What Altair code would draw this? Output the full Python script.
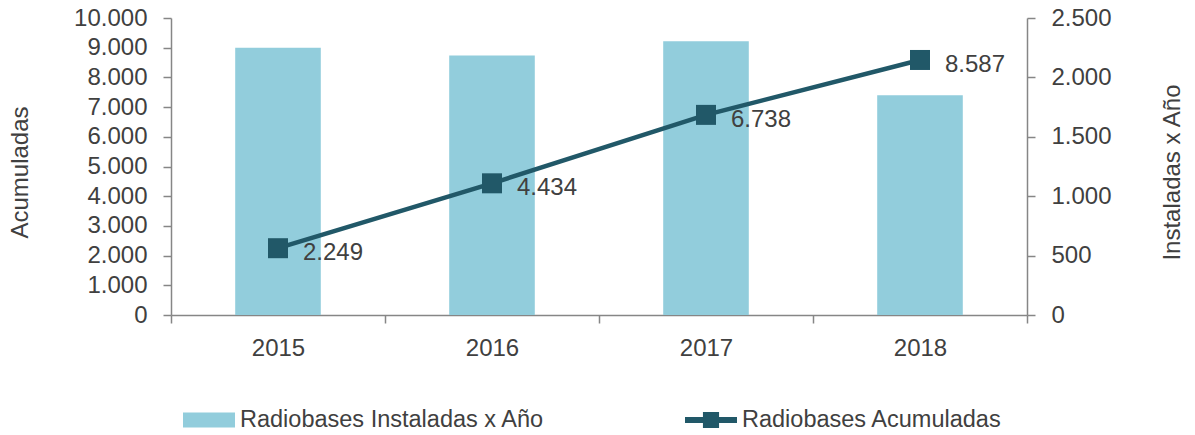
import altair as alt
import pandas as pd

years = ["2015", "2016", "2017", "2018"]
instaladas = [2249, 2185, 2304, 1849]
acumuladas = [2249, 4434, 6738, 8587]
label_instaladas = "Radiobases Instaladas x Año"
label_acumuladas = "Radiobases Acumuladas"

df = pd.DataFrame({"year": years, "inst": instaladas, "acum": acumuladas})
df["acum_lbl"] = [f"{v:,}".replace(",", ".") for v in acumuladas]

FONT = "Liberation Sans"
TXT = "#404040"
AX = "#868686"
BAR = "#92CDDC"
LINE = "#215868"

x_enc = alt.X(
    "year:N",
    scale=alt.Scale(paddingInner=0, paddingOuter=0),
    axis=alt.Axis(title=None, labelAngle=0, tickBand="extent", tickSize=8,
                  labelPadding=13),
)

bars = alt.Chart(df).mark_bar(color=BAR, width=alt.RelativeBandSize(0.4)).encode(
    x=x_enc,
    y=alt.Y("inst:Q", scale=alt.Scale(domain=[0, 2500], nice=False),
            axis=alt.Axis(orient="right", title="Instaladas x Año",
                          values=[0, 500, 1000, 1500, 2000, 2500],
                          labelExpr="replace(format(datum.value, ','), ',', '.')",
                          titleX=145, titleY=154, titleAngle=270,
                          titleAlign="center", titleBaseline="middle",
                          tickSize=8, labelPadding=16)),
    color=alt.Color("k:N", scale=alt.Scale(domain=[label_instaladas], range=[BAR]),
                    legend=alt.Legend(orient="none", legendX=12, legendY=376,
                                      title=None, padding=0,
                                      symbolType="M-1,-0.29H1V0.29H-1Z",
                                      symbolSize=2704, labelOffset=5,
                                      symbolStrokeWidth=0)),
).transform_calculate(k=f"'{label_instaladas}'")

y_left = alt.Y("acum:Q", scale=alt.Scale(domain=[0, 10000], nice=False),
               axis=alt.Axis(orient="left", title="Acumuladas",
                             values=list(range(0, 10001, 1000)),
                             labelExpr="replace(format(datum.value, ','), ',', '.')",
                             titleX=-151, titleY=154, titleAngle=270,
                             titleAlign="center", titleBaseline="middle",
                             tickSize=8, labelPadding=16))

line = alt.Chart(df).mark_line(color=LINE, strokeWidth=4.5).encode(x=x_enc, y=y_left)

points = alt.Chart(df).mark_point(shape="square", size=400, filled=True, opacity=1).encode(
    x=x_enc, y=y_left,
    color=alt.Color("k:N", scale=alt.Scale(domain=[label_acumuladas], range=[LINE]),
                    legend=alt.Legend(orient="none", legendX=514, legendY=376,
                                      title=None, padding=0,
                                      symbolType="M-1,-0.12H1V0.12H-1Z M-0.31,-0.31H0.31V0.31H-0.31Z",
                                      symbolSize=2704, labelOffset=5,
                                      symbolStrokeWidth=0, symbolOpacity=1)),
).transform_calculate(k=f"'{label_acumuladas}'")

labels = alt.Chart(df).mark_text(align="left", baseline="middle", dx=25, dy=5,
                                 font=FONT, fontSize=24, color=TXT).encode(
    x=x_enc, y=y_left, text="acum_lbl:N")

inner = alt.layer(line, points, labels)

chart = alt.layer(bars, inner).resolve_scale(
    y="independent", color="independent"
).properties(
    width=856, height=297,
    padding={"left": 171, "top": 18, "right": 168, "bottom": 120},
    autosize=alt.AutoSizeParams(type="none"),
).configure_view(stroke=None).configure_axis(
    grid=False, labelFont=FONT, labelFontSize=24, labelColor=TXT,
    titleFont=FONT, titleFontSize=24, titleColor=TXT, titleFontWeight="normal",
    domainColor=AX, tickColor=AX, domainWidth=1.5, tickWidth=1.5,
).configure_legend(
    labelFont=FONT, labelFontSize=23.5, labelColor=TXT, labelLimit=0,
)

chart.save("out.html", embed_options={"renderer": "svg", "actions": False})
